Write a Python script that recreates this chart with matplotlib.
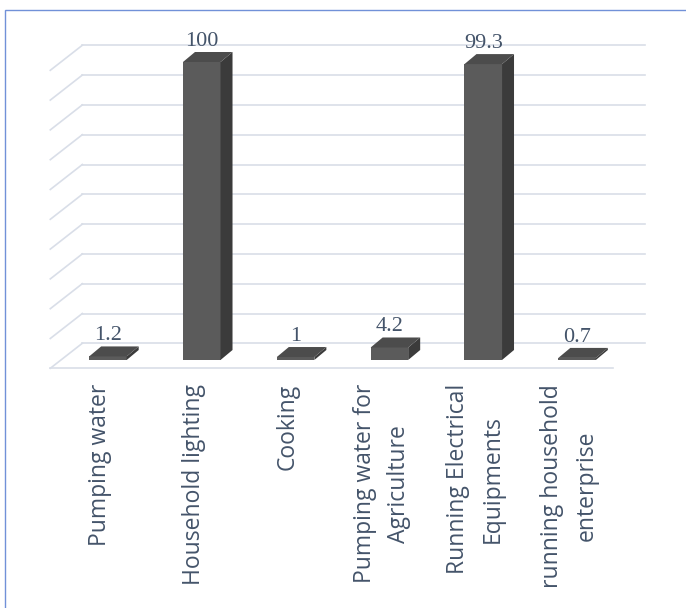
import matplotlib.pyplot as plt
from matplotlib.patches import Polygon, Rectangle

categories = ["Pumping water", "Household lighting", "Cooking",
              "Pumping water for\nAgriculture",
              "Running Electrical\nEquipments",
              "running household\nenterprise"]
values = [1.2, 100, 1, 4.2, 99.3, 0.7]
value_labels = ["1.2", "100", "1", "4.2", "99.3", "0.7"]
grid_values = list(range(0, 101, 10))

W, H = 686, 608
fig = plt.figure(figsize=(W / 100, H / 100), dpi=100)
# bar front plane: x -0.5..5.5, y 0..100
ax = fig.add_axes([61 / W, (H - 360) / H, (624 - 61) / W, (360 - 62) / H])
ax.set_xlim(-0.5, 5.5)
ax.set_ylim(0, 100)
ax.axis('off')

# fake 3d offsets in data units
px_x = 563 / 6
px_y = 298 / 100
back_dx, back_dy = 21.3 / px_x, 16.7 / px_y
front_dx, front_dy = -10.7 / px_x, -8.3 / px_y
bar_dx, bar_dy = 12 / px_x, 10 / px_y
half = 0.2

grid_col = '#d9dee8'
for g in grid_values:
    ax.plot([-0.5 + back_dx, 5.5 + back_dx], [g + back_dy, g + back_dy],
            color=grid_col, lw=1.2, clip_on=False, zorder=1)
    ax.plot([-0.5 + front_dx, -0.5 + back_dx], [g + front_dy, g + back_dy],
            color=grid_col, lw=1.2, clip_on=False, zorder=1)
ax.plot([-0.5 + front_dx, 5.5 + front_dx], [front_dy, front_dy],
        color=grid_col, lw=1.2, clip_on=False, zorder=1)

x = list(range(len(categories)))
ax.bar(x, values, width=2 * half, color='#5b5b5b', zorder=3, clip_on=False)
for i, v in enumerate(values):
    side = [(i + half, 0), (i + half + bar_dx, bar_dy),
            (i + half + bar_dx, v + bar_dy), (i + half, v)]
    top = [(i - half, v), (i + half, v),
           (i + half + bar_dx, v + bar_dy), (i - half + bar_dx, v + bar_dy)]
    ax.add_patch(Polygon(side, closed=True, facecolor='#3b3b3b',
                         edgecolor='none', zorder=3, clip_on=False))
    ax.add_patch(Polygon(top, closed=True, facecolor='#4c4c4c',
                         edgecolor='none', zorder=3, clip_on=False))
    ax.annotate(value_labels[i], xy=(i, v + bar_dy), xytext=(0, 4.5),
                textcoords='offset points', ha='center', va='baseline',
                fontfamily='Liberation Serif', fontsize=16, color='#44546a',
                annotation_clip=False)
    ax.annotate(categories[i], xy=(i - 0.08, 0), xytext=(0, -17.3),
                textcoords='offset points', ha='center', va='top',
                rotation=90, multialignment='center', linespacing=1.6,
                fontfamily='Open Sans', fontsize=16.5, color='#44546a',
                annotation_clip=False)

fig.patches.append(Rectangle((4.5 / W, -0.1), (W + 10) / W,
                             (H - 10.5) / H + 0.1, transform=fig.transFigure,
                             fill=False, edgecolor='#7191d8', lw=1))

fig.savefig('out.png', dpi=100)
